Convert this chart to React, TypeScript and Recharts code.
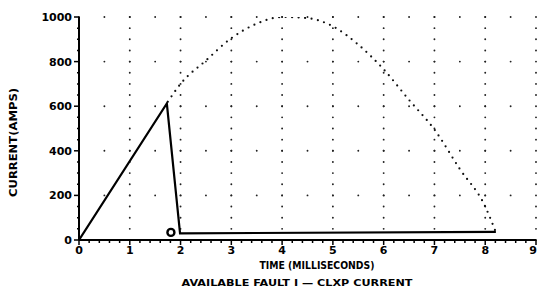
import React from 'react';
import { LineChart, Line, XAxis, YAxis, ReferenceLine, ReferenceDot } from 'recharts';

// Time axis (milliseconds)
const xMajorTicks = [0, 1, 2, 3, 4, 5, 6, 7, 8, 9];
const xGridTicks = [1, 2, 3, 4, 5, 6, 7, 8, 9];
const xMinorStep = 0.2;
// Current axis (amps)
const yMajorTicks = [0, 200, 400, 600, 800, 1000];
const yGridTicks = [200, 400, 600, 800, 1000];
const yMinorStep = 50;

// CLXP current (solid)
const clxpTime = [0, 1.73, 1.99, 8.21];
const clxpAmps = [0, 612, 30, 36];

// Available fault current (dotted)
const faultTime = [1.75, 2, 2.5, 3, 3.5, 4, 4.5, 5, 5.5, 6, 6.5, 7, 7.5, 8, 8.2];
const faultAmps = [620, 700, 805, 905, 970, 1000, 995, 958, 876, 765, 628, 495, 318, 150, 40];

// "o" marker
const markerTime = [1.81];
const markerAmps = [34];

const clxpData = clxpTime.map((t, i) => ({ t, a: clxpAmps[i] }));
const faultData = faultTime.map((t, i) => ({ t, a: faultAmps[i] }));

const xAllTicks: number[] = [];
for (let i = 0; i <= Math.round(9 / xMinorStep); i++) xAllTicks.push(Math.round(i * xMinorStep * 10) / 10);
const yAllTicks: number[] = [];
for (let i = 0; i <= Math.round(1000 / yMinorStep); i++) yAllTicks.push(i * yMinorStep);

const FONT = '"DejaVu Sans", sans-serif';

const XTick = (props: any) => {
  const { x, y, payload } = props;
  const v = payload.value;
  const major = xMajorTicks.includes(v);
  const isLast = v === xMajorTicks[xMajorTicks.length - 1];
  return (
    <g>
      <line x1={x} x2={x} y1={y} y2={y + (major ? 5 : 3)} stroke="#000" strokeWidth={1.5} />
      {major && (
        <text
          x={isLast ? x + 1 : x}
          y={y + 14}
          textAnchor={isLast ? 'end' : 'middle'}
          fontFamily={FONT}
          fontWeight="bold"
          fontSize={11}
          fill="#000"
        >
          {v}
        </text>
      )}
    </g>
  );
};

const YTick = (props: any) => {
  const { x, y, payload } = props;
  const v = payload.value;
  const major = yMajorTicks.includes(v);
  return (
    <g>
      <line x1={x} x2={x - (major ? 5 : 2)} y1={y} y2={y} stroke="#000" strokeWidth={1.5} />
      {major && (
        <text x={x - 7} y={y + 4} textAnchor="end" fontFamily={FONT} fontWeight="bold" fontSize={11} fill="#000">
          {v}
        </text>
      )}
    </g>
  );
};

export default function App() {
  return (
    <div style={{ position: 'absolute', left: 0, top: 0, width: 538, height: 288, background: '#fff' }}>
      <LineChart width={538} height={288} margin={{ top: 17, right: 2, left: 0, bottom: 0 }}>
        <XAxis
          type="number"
          dataKey="t"
          domain={[0, 9]}
          ticks={xAllTicks}
          interval={0}
          tick={<XTick />}
          tickLine={false}
          tickSize={0}
          tickMargin={0}
          height={48}
          axisLine={{ stroke: '#000', strokeWidth: 2 }}
          allowDataOverflow
        />
        <YAxis
          type="number"
          dataKey="a"
          domain={[0, 1000]}
          ticks={yAllTicks}
          interval={0}
          tick={<YTick />}
          tickLine={false}
          tickSize={0}
          tickMargin={0}
          width={79}
          axisLine={{ stroke: '#000', strokeWidth: 2 }}
          allowDataOverflow
        />
        {xGridTicks.map((t) => (
          <ReferenceLine
            key={'vx' + t}
            x={t}
            stroke="#222"
            strokeWidth={1.9}
            strokeDasharray="0 11.15"
            strokeLinecap="round"
          />
        ))}
        {yGridTicks.map((v) => (
          <ReferenceLine
            key={'hy' + v}
            y={v}
            stroke="#222"
            strokeWidth={1.9}
            strokeDasharray="0 25.39"
            strokeLinecap="round"
          />
        ))}
        <Line
          data={faultData}
          dataKey="a"
          type="monotone"
          stroke="#111"
          strokeWidth={2.2}
          strokeDasharray="0 6.5"
          strokeLinecap="round"
          dot={false}
          isAnimationActive={false}
        />
        <Line
          data={clxpData}
          dataKey="a"
          type="linear"
          stroke="#000"
          strokeWidth={2.2}
          dot={false}
          isAnimationActive={false}
        />
        <ReferenceDot
          x={markerTime[0]}
          y={markerAmps[0]}
          r={3.5}
          fill="#fff"
          stroke="#000"
          strokeWidth={2.4}
        />
      </LineChart>
      <svg width={538} height={288} style={{ position: 'absolute', left: 0, top: 0, pointerEvents: 'none' }}>
        <text
          x={317}
          y={269}
          textAnchor="middle"
          fontFamily={FONT}
          fontWeight="bold"
          fontSize={10}
          textLength={115}
          lengthAdjust="spacingAndGlyphs"
          fill="#000"
        >
          TIME (MILLISECONDS)
        </text>
        <text
          x={297}
          y={286}
          textAnchor="middle"
          fontFamily={FONT}
          fontWeight="bold"
          fontSize={9}
          textLength={231}
          lengthAdjust="spacingAndGlyphs"
          fill="#000"
        >
          AVAILABLE FAULT I — CLXP CURRENT
        </text>
        <text
          x={0}
          y={0}
          transform="translate(16.5,142.5) rotate(-90)"
          textAnchor="middle"
          fontFamily={FONT}
          fontWeight="bold"
          fontSize={10}
          textLength={109}
          lengthAdjust="spacingAndGlyphs"
          fill="#000"
        >
          CURRENT(AMPS)
        </text>
      </svg>
    </div>
  );
}
